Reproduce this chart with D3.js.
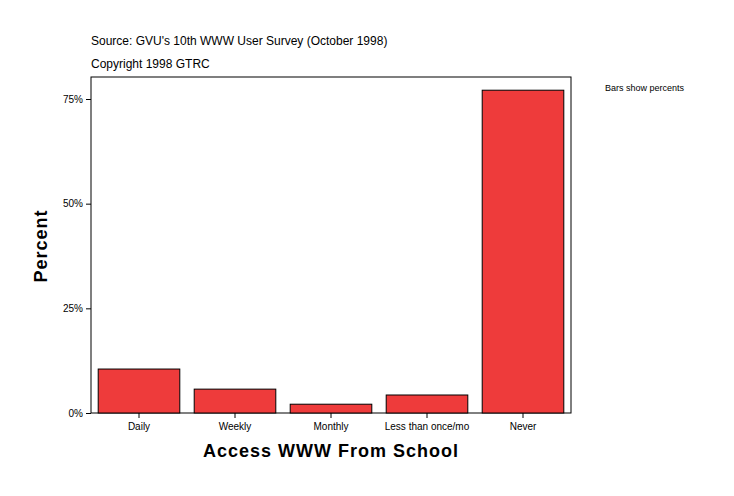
<!DOCTYPE html>
<html><head><meta charset="utf-8">
<script src="https://cdn.jsdelivr.net/npm/d3@7"></script>
<style>body{margin:0;background:#fff}</style></head>
<body><script>
const categories=["Daily","Weekly","Monthly","Less than once/mo","Never"];
const values=[10.5,5.7,2.1,4.3,77.1];
const ticks=[0,25,50,75];
const W=734,H=496,L=91,R=571,T=77,B=413;
const svg=d3.select("body").append("svg").attr("width",W).attr("height",H).style("font-family","Arial, Liberation Sans, sans-serif");
const x=d3.scaleBand().domain(categories).range([L,R]).paddingInner(0.15).paddingOuter(0.075);
const y=d3.scaleLinear().domain([0,75]).range([B,99]);
svg.append("rect").attr("x",L).attr("y",T).attr("width",R-L).attr("height",B-T).attr("fill","none").attr("stroke","#000");
svg.selectAll(".bar").data(values).enter().append("rect")
 .attr("x",(d,i)=>x(categories[i])).attr("y",d=>y(d)).attr("width",x.bandwidth()).attr("height",d=>B-y(d))
 .attr("fill","#ee3b3b").attr("stroke","#000").attr("stroke-width",1);
const ya=svg.append("g").attr("transform",`translate(${L},0)`).call(d3.axisLeft(y).tickValues(ticks).tickFormat(d=>d+"%").tickSize(5).tickSizeOuter(0));
ya.select(".domain").remove();
ya.selectAll("text").attr("font-size",10).attr("font-family","Arial, Liberation Sans, sans-serif");
const xa=svg.append("g").attr("transform",`translate(0,${B})`).call(d3.axisBottom(x).tickSize(5).tickSizeOuter(0));
xa.select(".domain").remove();
xa.selectAll("text").attr("font-size",10).attr("dy","0.9em").attr("font-family","Arial, Liberation Sans, sans-serif");
svg.append("text").attr("x",91).attr("y",45).attr("font-size",12).text("Source: GVU's 10th WWW User Survey (October 1998)");
svg.append("text").attr("x",91).attr("y",68).attr("font-size",12).text("Copyright 1998 GTRC");
svg.append("text").attr("x",605).attr("y",91).attr("font-size",9).text("Bars show percents");
svg.append("text").attr("x",331).attr("y",457).attr("text-anchor","middle").attr("font-size",18).attr("font-weight","bold").attr("letter-spacing",1).text("Access WWW From School");
svg.append("text").attr("transform","translate(47,246) rotate(-90)").attr("text-anchor","middle").attr("font-size",18).attr("font-weight","bold").attr("letter-spacing",1).text("Percent");
</script></body></html>
